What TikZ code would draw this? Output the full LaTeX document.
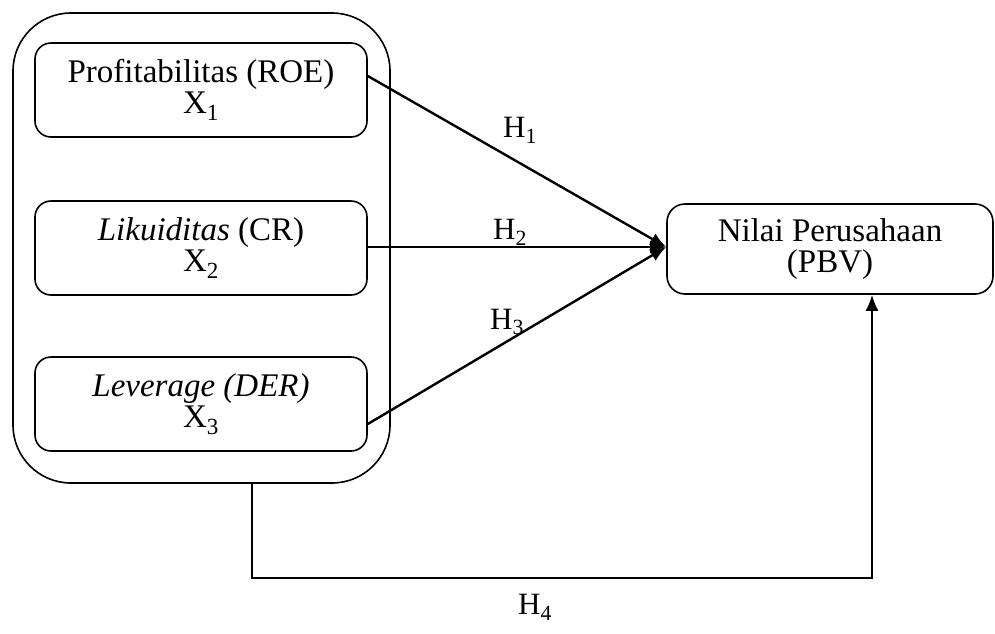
\documentclass[tikz,border=0pt]{standalone}
\usepackage{fontspec}
\setmainfont{Liberation Serif}
\usetikzlibrary{arrows.meta,positioning}
\begin{document}
\begin{tikzpicture}[x=1pt,y=-1pt,
  varbox/.style={draw,line width=1.6pt,rounded corners=16pt,minimum width=332pt,minimum height=94pt,align=center,inner sep=0pt,
     font=\fontsize{33}{31}\selectfont},
  groupbox/.style={draw,line width=1.6pt,rounded corners=58pt,minimum width=377pt,minimum height=470pt,inner sep=0pt},
  link/.style={line width=2.4pt,-{Latex[length=16pt,width=13pt]}},
  hlabel/.style={font=\fontsize{31}{31}\selectfont,inner sep=0pt}]
\useasboundingbox (0,0) rectangle (995,633);
\node[groupbox] (outer) at (201.5,248) {};
\node[varbox] (b1) at (201,90) {Profitabilitas (ROE)\\[0pt]X\textsubscript{1}};
\node[varbox] (b2) at (201,248) {\textit{Likuiditas} (CR)\\[0pt]X\textsubscript{2}};
\node[varbox] (b3) at (201,404) {\textit{Leverage (DER)}\\[0pt]X\textsubscript{3}};
\node[varbox,minimum width=326pt,minimum height=90pt,rounded corners=18pt] (nilai) at (830,249) {Nilai Perusahaan\\[0pt](PBV)};
\draw[link] ([yshift=14pt]b1.east) -- ([yshift=2pt]nilai.west);
\draw[link] ([yshift=1pt]b2.east) -- ([yshift=2pt]nilai.west);
\draw[link] ([yshift=-20pt]b3.east) -- ([yshift=2pt]nilai.west);
\draw[line width=2pt,-{Latex[length=16pt,width=13pt]}] ([xshift=50.5pt]outer.south) -- ++(0,94) -| ([xshift=42pt]nilai.south);
\node[hlabel] (h1) at (520,130) {H\textsubscript{1}};
\node[hlabel] (h2) at (510,232) {H\textsubscript{2}};
\node[hlabel] (h3) at (507,322) {H\textsubscript{3}};
\node[hlabel] (h4) at (535,607) {H\textsubscript{4}};
\end{tikzpicture}
\end{document}
